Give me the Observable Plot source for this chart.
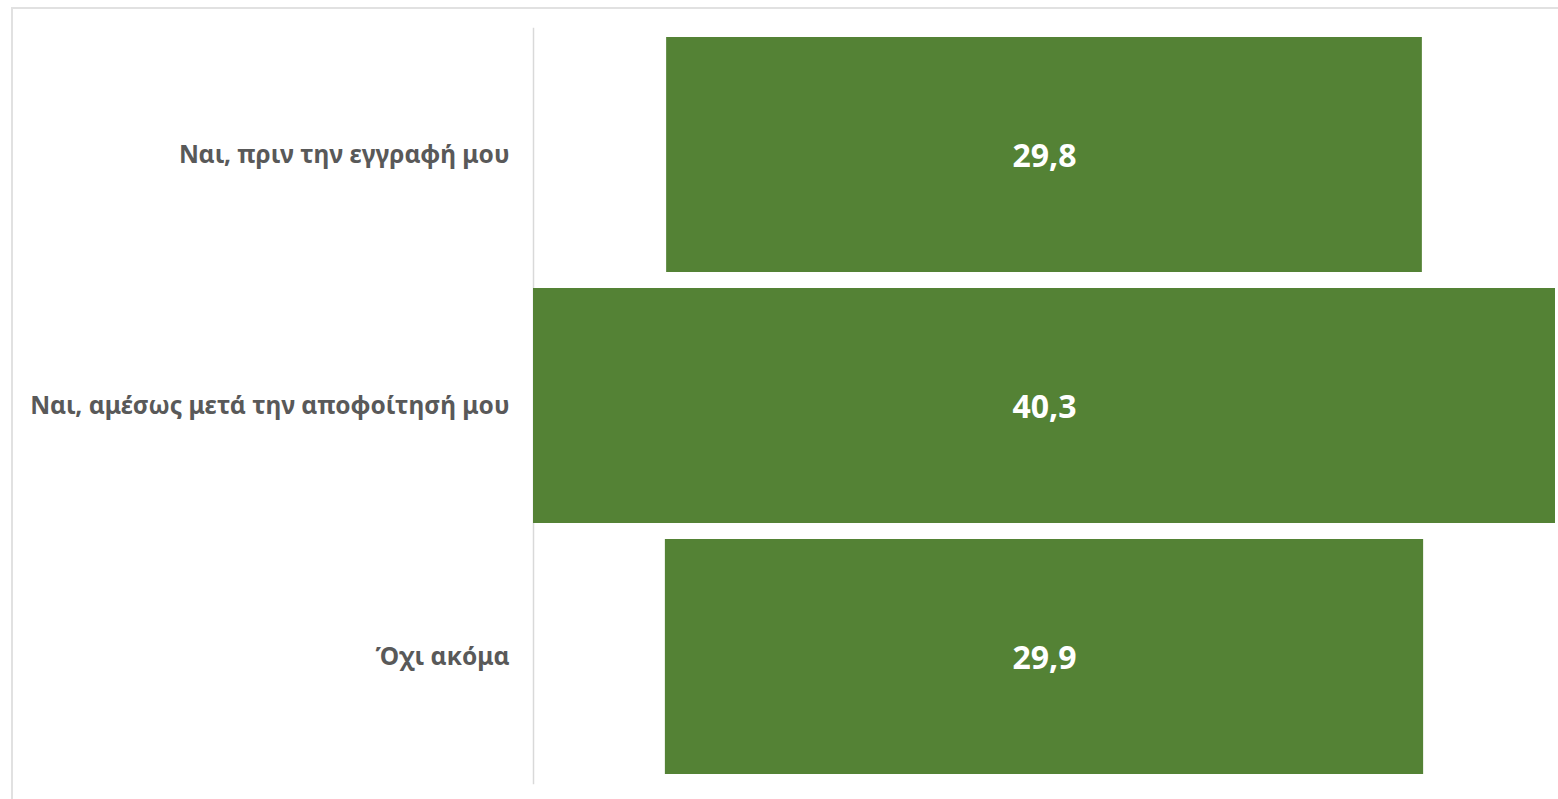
<!DOCTYPE html>
<html>
<head>
<meta charset="utf-8">
<script src="https://cdn.jsdelivr.net/npm/d3@7"></script>
<script src="https://cdn.jsdelivr.net/npm/@observablehq/plot@0.6"></script>
<style>
  html, body { margin: 0; padding: 0; background: #fff; overflow: hidden; }
  #wrap { position: relative; width: 1558px; height: 799px; }
  #border { position: absolute; left: 11px; top: 7px; width: 1600px; height: 900px;
            border-left: 2px solid #e1e1e1; border-top: 2px solid #e1e1e1; pointer-events: none; }
  #chart { position: absolute; left: 0; top: 0; }
</style>
</head>
<body>
<div id="wrap"><div id="chart"></div><div id="border"></div></div>
<script>
const categories = ["Ναι, πριν την εγγραφή μου", "Ναι, αμέσως μετά την αποφοίτησή μου", "Όχι ακόμα"];
const values = [29.8, 40.3, 29.9];

const data = categories.map((c, i) => ({category: c, value: values[i]}));
const maxV = d3.max(values);
const fmt = v => v.toFixed(1).replace(".", ",");

const chart = Plot.plot({
  width: 1558,
  height: 799,
  marginLeft: 533,
  marginRight: 3,
  marginTop: 28,
  marginBottom: 16,
  style: {fontFamily: "'Noto Sans', sans-serif", background: "transparent"},
  x: {domain: [-maxV / 2, maxV / 2], axis: null},
  y: {domain: categories, paddingInner: 0.0656, paddingOuter: 0.0318, label: null},
  marks: [
    Plot.frame({anchor: "left", stroke: "#d9d9d9", strokeWidth: 1.5, strokeOpacity: 1}),
    Plot.barX(data, {y: "category", x1: d => -d.value / 2, x2: d => d.value / 2, fill: "#548235"}),
    Plot.text(data, {y: "category", x: 0, dy: 2, text: d => fmt(d.value), fill: "white",
                     fontSize: 32, fontWeight: "bold"}),
    Plot.axisY({tickSize: 0, tickPadding: 24, fontSize: 24.5, fontWeight: "bold", color: "#595959", label: null})
  ]
});
document.getElementById("chart").appendChild(chart);
</script>
</body>
</html>
